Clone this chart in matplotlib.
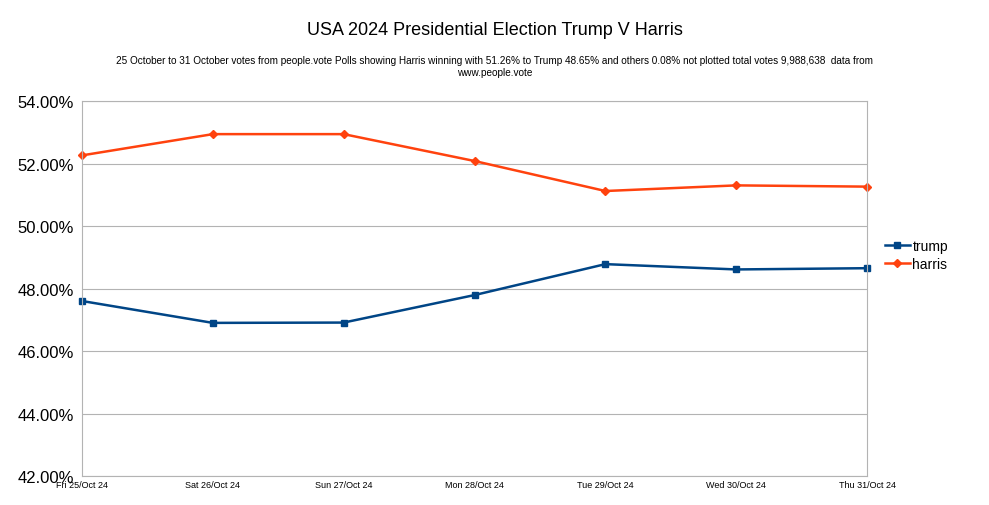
import matplotlib
matplotlib.use("Agg")
import matplotlib.pyplot as plt
from matplotlib.ticker import FuncFormatter, MultipleLocator

dates = ["Fri 25/Oct 24", "Sat 26/Oct 24", "Sun 27/Oct 24", "Mon 28/Oct 24",
         "Tue 29/Oct 24", "Wed 30/Oct 24", "Thu 31/Oct 24"]
trump = [47.60, 46.90, 46.91, 47.79, 48.78, 48.61, 48.65]
harris = [52.26, 52.94, 52.94, 52.08, 51.12, 51.30, 51.26]

plt.rcParams['font.family'] = ['Liberation Sans', 'DejaVu Sans']
fig = plt.figure(figsize=(9.89, 5.06), dpi=100)
ax = fig.add_axes([0.0829, 0.0573, 0.7938, 0.7411])
x = list(range(len(dates)))
ax.plot(x, trump, color='#004586', marker='s', markersize=5, lw=1.8, label='trump', clip_on=False)
ax.plot(x, harris, color='#ff420e', marker='D', markersize=4, lw=1.8, label='harris', clip_on=False)
ax.set_xlim(0, len(dates) - 1)
ax.set_ylim(42, 54)
ax.yaxis.set_major_locator(MultipleLocator(2))
ax.yaxis.set_major_formatter(FuncFormatter(lambda v, p: f"{v:.2f}%"))
ax.set_xticks(x)
ax.set_xticklabels(dates, fontsize=6.5)
ax.tick_params(axis='y', labelsize=12, length=0, pad=6)
ax.tick_params(axis='x', length=0, pad=3)
ax.grid(axis='y', color='#b3b3b3', lw=0.8)
ax.set_axisbelow(True)
for s in ax.spines.values():
    s.set_color('#b3b3b3')
ax.legend(loc='center left', bbox_to_anchor=(1.01, 0.59), frameon=False,
          fontsize=10, handlelength=1.8, handletextpad=0.2, borderaxespad=0.3,
          labelspacing=0.3)
fig.text(0.5, 0.94, "USA 2024 Presidential Election Trump V Harris",
         ha='center', va='center', fontsize=13)
fig.text(0.5, 0.868, "25 October to 31 October votes from people.vote Polls showing Harris winning with 51.26% to Trump 48.65% and others 0.08% not plotted total votes 9,988,638  data from\nwww.people.vote",
         ha='center', va='center', fontsize=7.2, linespacing=1.3)
fig.savefig("out.png", dpi=100)
